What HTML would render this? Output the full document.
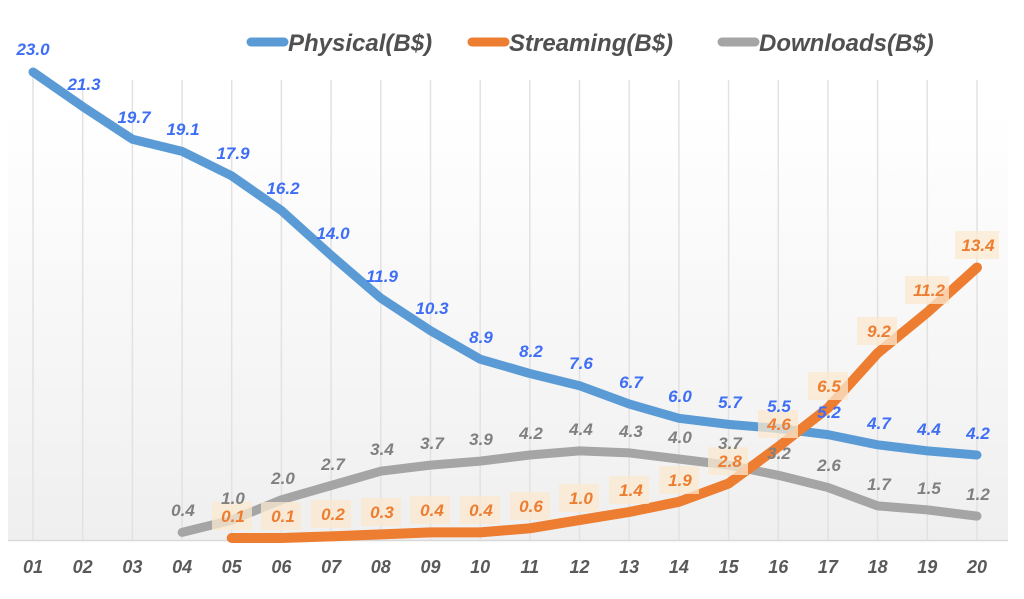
<!DOCTYPE html>
<html><head><meta charset="utf-8"><style>
html,body{margin:0;padding:0;background:#fff;}
svg{display:block;font-family:"Liberation Sans",sans-serif;font-weight:bold;font-style:italic;}
</style></head><body>
<svg width="1024" height="599" viewBox="0 0 1024 599" xmlns="http://www.w3.org/2000/svg">
<defs><linearGradient id="bg" x1="0" y1="0" x2="0" y2="1">
<stop offset="0" stop-color="#fff"/><stop offset="1" stop-color="#efefef"/></linearGradient></defs>
<rect x="8" y="110" width="1000" height="430" fill="url(#bg)"/>
<g stroke="#e2e2e2" stroke-width="1.5">
<line x1="33" y1="72" x2="33" y2="540"/><line x1="82.7" y1="80" x2="82.7" y2="540"/><line x1="132.4" y1="80" x2="132.4" y2="540"/><line x1="182.1" y1="80" x2="182.1" y2="540"/><line x1="231.7" y1="80" x2="231.7" y2="540"/><line x1="281.4" y1="80" x2="281.4" y2="540"/><line x1="331.1" y1="80" x2="331.1" y2="540"/><line x1="380.8" y1="80" x2="380.8" y2="540"/><line x1="430.5" y1="80" x2="430.5" y2="540"/><line x1="480.2" y1="80" x2="480.2" y2="540"/><line x1="529.8" y1="80" x2="529.8" y2="540"/><line x1="579.5" y1="80" x2="579.5" y2="540"/><line x1="629.2" y1="80" x2="629.2" y2="540"/><line x1="678.9" y1="80" x2="678.9" y2="540"/><line x1="728.6" y1="80" x2="728.6" y2="540"/><line x1="778.3" y1="80" x2="778.3" y2="540"/><line x1="827.9" y1="80" x2="827.9" y2="540"/><line x1="877.6" y1="80" x2="877.6" y2="540"/><line x1="927.3" y1="80" x2="927.3" y2="540"/><line x1="977" y1="80" x2="977" y2="540"/>
</g>
<line x1="8" y1="540.5" x2="1008" y2="540.5" stroke="#d9d9d9" stroke-width="1.5"/>
<g fill="none" stroke-width="9" stroke-linecap="round" stroke-linejoin="round">
<polyline stroke="#5b9bd5" points="33,72 82.7,106.6 132.4,139.2 182.1,151.4 231.7,175.9 281.4,210.5 331.1,255.3 380.8,298.1 430.5,330.7 480.2,359.2 529.8,373.5 579.5,385.7 629.2,404 678.9,418.3 728.6,424.4 778.3,428.5 827.9,434.6 877.6,444.8 927.3,450.9 977,455"/>
<polyline stroke="#a5a5a5" points="182.1,532.4 231.7,520.1 281.4,499.8 331.1,485.5 380.8,471.2 430.5,465.1 480.2,461.1 529.8,455 579.5,450.9 629.2,452.9 678.9,459 728.6,465.1 778.3,475.3 827.9,487.5 877.6,505.9 927.3,509.9 977,516.1"/>
<polyline stroke="#ed7d31" stroke-width="10" points="231.7,538 281.4,538 331.1,536.4 380.8,534.4 430.5,532.4 480.2,532.4 529.8,528.3 579.5,520.1 629.2,512 678.9,501.8 728.6,483.5 778.3,446.8 827.9,408.1 877.6,353.1 927.3,312.4 977,267.5"/>
</g>
<g fill="#fbe9cf" opacity="0.75">
<rect x="212" y="502" width="40" height="28"/><rect x="261" y="502" width="40" height="28"/><rect x="311" y="500" width="40" height="28"/><rect x="361" y="498" width="40" height="28"/><rect x="410" y="496" width="40" height="28"/><rect x="460" y="496" width="40" height="28"/><rect x="510" y="492" width="40" height="28"/><rect x="559" y="484" width="40" height="28"/><rect x="609" y="476" width="40" height="28"/><rect x="659" y="466" width="40" height="28"/><rect x="708" y="447" width="40" height="28"/><rect x="758" y="410" width="40" height="28"/><rect x="808" y="372" width="40" height="28"/><rect x="857" y="317" width="40" height="28"/><rect x="905" y="276" width="44" height="28"/><rect x="955" y="231" width="44" height="28"/>
</g>
<g font-size="17" text-anchor="middle" fill="#3d6ef5">
<text x="33" y="55">23.0</text><text x="84" y="90">21.3</text><text x="134" y="123">19.7</text><text x="183" y="135">19.1</text><text x="233" y="159">17.9</text><text x="283" y="194">16.2</text><text x="333" y="239">14.0</text><text x="382" y="282">11.9</text><text x="432" y="314">10.3</text><text x="481" y="343">8.9</text><text x="531" y="357">8.2</text><text x="581" y="369">7.6</text><text x="631" y="388">6.7</text><text x="680" y="402">6.0</text><text x="730" y="408">5.7</text><text x="779" y="412">5.5</text><text x="829" y="418">5.2</text><text x="879" y="429">4.7</text><text x="929" y="435">4.4</text><text x="978" y="439">4.2</text>
</g>
<g font-size="17" text-anchor="middle" fill="#808080">
<text x="183" y="516">0.4</text><text x="233" y="504">1.0</text><text x="283" y="484">2.0</text><text x="333" y="470">2.7</text><text x="382" y="455">3.4</text><text x="432" y="449">3.7</text><text x="481" y="445">3.9</text><text x="531" y="439">4.2</text><text x="581" y="435">4.4</text><text x="631" y="437">4.3</text><text x="680" y="443">4.0</text><text x="730" y="449">3.7</text><text x="779" y="459">3.2</text><text x="829" y="471">2.6</text><text x="879" y="490">1.7</text><text x="929" y="494">1.5</text><text x="978" y="500">1.2</text>
</g>
<g font-size="17" text-anchor="middle" fill="#ed7d31">
<text x="233" y="522">0.1</text><text x="283" y="522">0.1</text><text x="333" y="520">0.2</text><text x="382" y="518">0.3</text><text x="432" y="516">0.4</text><text x="481" y="516">0.4</text><text x="531" y="512">0.6</text><text x="581" y="504">1.0</text><text x="631" y="496">1.4</text><text x="680" y="486">1.9</text><text x="730" y="467">2.8</text><text x="779" y="430">4.6</text><text x="829" y="392">6.5</text><text x="879" y="337">9.2</text><text x="929" y="296">11.2</text><text x="978" y="251">13.4</text>
</g>
<g font-size="18" text-anchor="middle" fill="#595959">
<text x="33" y="573">01</text><text x="82.7" y="573">02</text><text x="132.4" y="573">03</text><text x="182.1" y="573">04</text><text x="231.7" y="573">05</text><text x="281.4" y="573">06</text><text x="331.1" y="573">07</text><text x="380.8" y="573">08</text><text x="430.5" y="573">09</text><text x="480.2" y="573">10</text><text x="529.8" y="573">11</text><text x="579.5" y="573">12</text><text x="629.2" y="573">13</text><text x="678.9" y="573">14</text><text x="728.6" y="573">15</text><text x="778.3" y="573">16</text><text x="827.9" y="573">17</text><text x="877.6" y="573">18</text><text x="927.3" y="573">19</text><text x="977" y="573">20</text>
</g>
<g stroke-width="9" stroke-linecap="round">
<line x1="251" y1="42" x2="284" y2="42" stroke="#5b9bd5"/>
<line x1="472" y1="42" x2="505" y2="42" stroke="#ed7d31"/>
<line x1="722" y1="42" x2="755" y2="42" stroke="#a5a5a5"/>
</g>
<g font-size="24" fill="#505050">
<text x="288" y="51">Physical(B$)</text>
<text x="509" y="51">Streaming(B$)</text>
<text x="759" y="51">Downloads(B$)</text>
</g>
</svg>
</body></html>
